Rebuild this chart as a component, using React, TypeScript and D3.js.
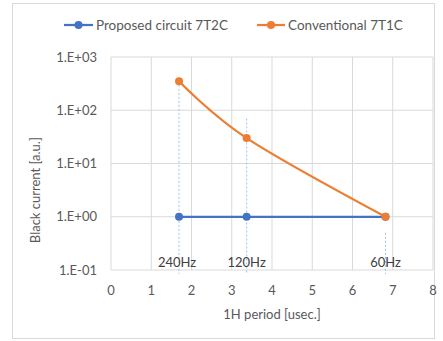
import React from "react";
import * as d3 from "d3";

// values
const periods = [1.69, 3.37, 6.82];
const conventional = [350, 30, 1];
const proposed = [1, 1, 1];
const freqLabels = ["240Hz", "120Hz", "60Hz"];
// top of each dotted guide line (in data units)
const guideTops = [300, 70, 0.5];
const xTicks = [0, 1, 2, 3, 4, 5, 6, 7, 8];
const yTicks = [0.1, 1, 10, 100, 1000];
const yTickLabels = ["1.E-01", "1.E+00", "1.E+01", "1.E+02", "1.E+03"];

const W = 443;
const H = 341;
const font = "Lato, 'Open Sans', sans-serif";
const BLUE = "#4472C4";
const ORANGE = "#ED7D31";
const GRID = "#D9D9D9";
const TXT = "#595959";

export default function App() {
  const x = d3.scaleLinear().domain([0, 8]).range([111, 433]);
  const y = d3.scaleLog().domain([0.1, 1000]).range([270, 57]);

  const smooth = d3
    .line<[number, number]>()
    .x((d) => x(d[0]))
    .y((d) => y(d[1]))
    .curve(d3.curveCardinal.tension(0));
  const straight = d3
    .line<[number, number]>()
    .x((d) => x(d[0]))
    .y((d) => y(d[1]));

  const convPts = periods.map((p, i) => [p, conventional[i]] as [number, number]);
  const propPts = periods.map((p, i) => [p, proposed[i]] as [number, number]);

  return (
    <div style={{ position: "absolute", left: 0, top: 0 }}>
      <svg width={W} height={H} style={{ display: "block", fontFamily: font }}>
        <rect x={0} y={0} width={W} height={H} fill="#fff" />
        <rect x={12.5} y={3.5} width={422} height={335} fill="#fff" stroke={GRID} />

        {/* grid */}
        {xTicks.map((t) => (
          <line key={"gx" + t} x1={x(t)} x2={x(t)} y1={y(1000)} y2={y(0.1)} stroke={GRID} strokeWidth={1} />
        ))}
        {yTicks.map((t) => (
          <line key={"gy" + t} x1={x(0)} x2={x(8)} y1={y(t)} y2={y(t)} stroke={GRID} strokeWidth={1} />
        ))}

        {/* dotted guides */}
        {periods.map((p, i) => (
          <line
            key={"g" + i}
            x1={x(p)}
            x2={x(p)}
            y1={y(guideTops[i])}
            y2={y(0.1) + 4}
            stroke="#9DC3E6"
            strokeWidth={1}
            strokeDasharray="2 2"
          />
        ))}

        {/* series */}
        <path d={straight(propPts) || ""} fill="none" stroke={BLUE} strokeWidth={2.25} />
        <path d={smooth(convPts) || ""} fill="none" stroke={ORANGE} strokeWidth={2.25} />
        {propPts.map((d, i) => (
          <circle key={"pb" + i} cx={x(d[0])} cy={y(d[1])} r={4} fill={BLUE} />
        ))}
        {convPts.map((d, i) => (
          <circle key={"po" + i} cx={x(d[0])} cy={y(d[1])} r={4} fill={ORANGE} />
        ))}

        {/* frequency labels */}
        {periods.map((p, i) => (
          <text key={"f" + i} x={x(p) - (i === 0 ? 2 : 0)} y={267} textAnchor="middle" fontSize={13} fill="#404040">
            {freqLabels[i]}
          </text>
        ))}

        {/* axes labels */}
        {xTicks.map((t) => (
          <text key={"xt" + t} x={x(t)} y={295} textAnchor="middle" fontSize={13} fill={TXT}>
            {t}
          </text>
        ))}
        {yTicks.map((t, i) => (
          <text key={"yt" + t} x={97} y={y(t) + 4.5} textAnchor="end" fontSize={13} fill={TXT}>
            {yTickLabels[i]}
          </text>
        ))}
        <text x={272} y={319} textAnchor="middle" fontSize={13} fill={TXT}>
          1H period [usec.]
        </text>
        <text
          transform={`translate(40, ${y(Math.sqrt(10))}) rotate(-90)`}
          textAnchor="middle"
          fontSize={13}
          fill={TXT}
        >
          Black current [a.u.]
        </text>

        {/* legend */}
        <line x1={64} x2={93} y1={25} y2={25} stroke={BLUE} strokeWidth={2.25} />
        <circle cx={78.5} cy={25} r={4} fill={BLUE} />
        <text x={96} y={29.5} fontSize={13.5} fill={TXT}>
          Proposed circuit 7T2C
        </text>
        <line x1={257} x2={285} y1={25} y2={25} stroke={ORANGE} strokeWidth={2.25} />
        <circle cx={271} cy={25} r={4} fill={ORANGE} />
        <text x={288} y={29.5} fontSize={13.5} fill={TXT}>
          Conventional 7T1C
        </text>
      </svg>
    </div>
  );
}
